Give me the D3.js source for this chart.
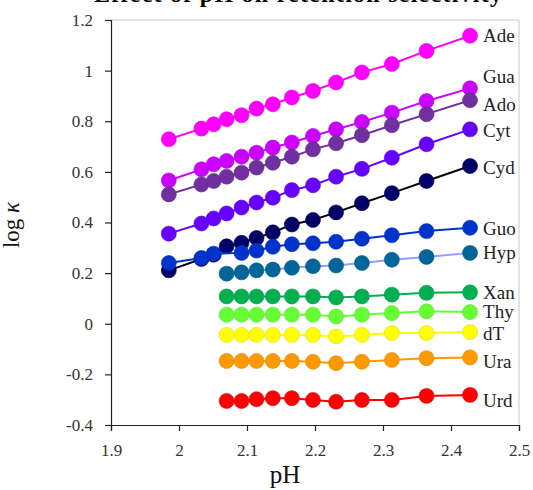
<!DOCTYPE html>
<html>
<head>
<meta charset="utf-8">
<script src="https://cdn.jsdelivr.net/npm/d3@7"></script>
<style>
  html, body { margin: 0; padding: 0; background: #fff; }
  svg { display: block; }
</style>
</head>
<body>
<div id="chart"></div>
<script>
// ---------- data ----------
const pH = [1.985, 2.033, 2.051, 2.070, 2.092, 2.114, 2.138, 2.166, 2.197, 2.231, 2.269, 2.313, 2.364, 2.428];

const names  = ["Ade", "Gua", "Ado", "Cyt", "Cyd", "Guo", "Hyp", "Xan", "Thy", "dT", "Ura", "Urd"];

const Ade = [0.729, 0.771, 0.788, 0.808, 0.824, 0.850, 0.867, 0.894, 0.920, 0.953, 0.993, 1.026, 1.078, 1.138];
const Gua = [0.566, 0.610, 0.630, 0.643, 0.660, 0.676, 0.696, 0.716, 0.742, 0.768, 0.797, 0.834, 0.880, 0.930];
const Ado = [0.511, 0.550, 0.564, 0.581, 0.597, 0.617, 0.636, 0.660, 0.689, 0.713, 0.745, 0.784, 0.828, 0.883];
const Cyt = [0.356, 0.396, 0.416, 0.436, 0.459, 0.479, 0.498, 0.528, 0.547, 0.581, 0.612, 0.656, 0.709, 0.768];
const Cyd = [0.211, 0.256, 0.273, 0.306, 0.320, 0.339, 0.361, 0.392, 0.410, 0.440, 0.476, 0.516, 0.564, 0.623];
const Guo = [0.240, 0.260, 0.277, null, 0.280, 0.289, 0.304, 0.314, 0.318, 0.324, 0.336, 0.350, 0.366, 0.379];
const Hyp = [null, null, null, 0.198, 0.203, 0.211, 0.214, 0.221, 0.227, 0.230, 0.240, 0.253, 0.264, 0.280];
const Xan = [null, null, null, 0.108, 0.108, 0.108, 0.108, 0.108, 0.108, 0.104, 0.108, 0.115, 0.122, 0.124];
const Thy = [null, null, null, 0.036, 0.036, 0.036, 0.036, 0.036, 0.036, 0.029, 0.036, 0.042, 0.049, 0.046];
const dT  = [null, null, null, -0.044, -0.044, -0.044, -0.044, -0.044, -0.044, -0.050, -0.044, -0.037, -0.037, -0.033];
const Ura = [null, null, null, -0.147, -0.147, -0.147, -0.147, -0.147, -0.150, -0.156, -0.150, -0.143, -0.136, -0.133];
const Urd = [null, null, null, -0.305, -0.305, -0.298, -0.294, -0.294, -0.301, -0.308, -0.301, -0.301, -0.285, -0.281];

const seriesValues = [Ade, Gua, Ado, Cyt, Cyd, Guo, Hyp, Xan, Thy, dT, Ura, Urd];

const xTicks = [1.9, 2.0, 2.1, 2.2, 2.3, 2.4, 2.5];
const yTicks = [-0.4, -0.2, 0, 0.2, 0.4, 0.6, 0.8, 1.0, 1.2];

// ---------- style ----------
const markerColors = ["#FF00FF", "#CC00FF", "#7030A0", "#6600FF", "#000066", "#0033CC",
                      "#006699", "#00B050", "#66FF33", "#FFFF00", "#FF9900", "#FF0000"];
const lineColors   = ["#FF00FF", "#CC00FF", "#7030A0", "#6600FF", "#000000", "#0033CC",
                      "#9999FF", "#00B050", "#66FF33", "#FFFF00", "#FF9900", "#FF0000"];
const labelDy      = [0, -12, 4, 1, 1, 1, -1, 0, -1, 1, 4, 5];

const W = 533, H = 490;
const margin = { left: 111, right: 14, top: 20, bottom: 65 };

const svg = d3.select("#chart").append("svg")
  .attr("width", W).attr("height", H);

const x = d3.scaleLinear().domain([1.9, 2.5]).range([margin.left, W - margin.right]);
const y = d3.scaleLinear().domain([-0.4, 1.2]).range([H - margin.bottom, margin.top]);

const serif = "'Liberation Serif', 'Times New Roman', serif";

// cut-off title at the very top
svg.append("text")
  .attr("x", 94).attr("y", 2)
  .attr("font-family", serif).attr("font-weight", "bold").attr("font-size", 24)
  .attr("fill", "#000")
  .attr("textLength", 408).attr("lengthAdjust", "spacing")
  .text("Effect of pH on retention selectivity");

// frame (top and right, light gray)
svg.append("path")
  .attr("d", `M${x(1.9)},${y(1.2)}H${x(2.5)}V${y(-0.4)}`)
  .attr("fill", "none").attr("stroke", "#c8c8c8").attr("stroke-width", 1);

const fmt = d => String(+d.toFixed(1));

// x axis
const gx = svg.append("g")
  .attr("transform", `translate(0,${y(-0.4)})`)
  .call(d3.axisBottom(x).tickValues(xTicks).tickFormat(fmt).tickSizeOuter(0).tickSize(6).tickPadding(13));
// y axis
const gy = svg.append("g")
  .attr("transform", `translate(${x(1.9)},0)`)
  .call(d3.axisLeft(y).tickValues(yTicks).tickFormat(fmt).tickSizeOuter(0).tickSize(6).tickPadding(12));

[gx, gy].forEach(g => {
  g.select(".domain").attr("stroke", "#222").attr("stroke-width", 1.2);
  g.selectAll(".tick line").attr("stroke", "#222").attr("stroke-width", 1.2);
  g.selectAll(".tick text").attr("font-family", serif).attr("font-size", 17).attr("fill", "#333");
});

// axis titles
svg.append("text")
  .attr("x", 285).attr("y", 483)
  .attr("text-anchor", "middle")
  .attr("font-family", serif).attr("font-size", 25).attr("fill", "#111")
  .text("pH");

const yl = svg.append("text")
  .attr("transform", "translate(19,225) rotate(-90)")
  .attr("text-anchor", "middle")
  .attr("font-family", serif).attr("font-size", 23).attr("fill", "#111");
yl.append("tspan").text("log ");
yl.append("tspan").attr("font-style", "italic").text("κ");

// series
const line = d3.line()
  .defined(d => d.v !== null)
  .x(d => x(d.p))
  .y(d => y(d.v));

seriesValues.forEach((vals, i) => {
  const pts = vals.map((v, j) => ({ p: pH[j], v }));
  const defined = pts.filter(d => d.v !== null);
  const g = svg.append("g");
  g.append("path")
    .datum(defined)
    .attr("d", line)
    .attr("fill", "none")
    .attr("stroke", lineColors[i])
    .attr("stroke-width", 2);
  g.selectAll("circle")
    .data(defined)
    .join("circle")
    .attr("cx", d => x(d.p))
    .attr("cy", d => y(d.v))
    .attr("r", 7.5)
    .attr("fill", markerColors[i])
    .attr("stroke", d3.color(markerColors[i]).darker(0.35))
    .attr("stroke-width", 0.6);
  const last = defined[defined.length - 1];
  svg.append("text")
    .attr("x", x(last.p) + 13)
    .attr("y", y(last.v) + labelDy[i])
    .attr("dy", "0.35em")
    .attr("font-family", serif).attr("font-size", 19).attr("fill", "#222")
    .text(names[i]);
});
</script>
</body>
</html>
